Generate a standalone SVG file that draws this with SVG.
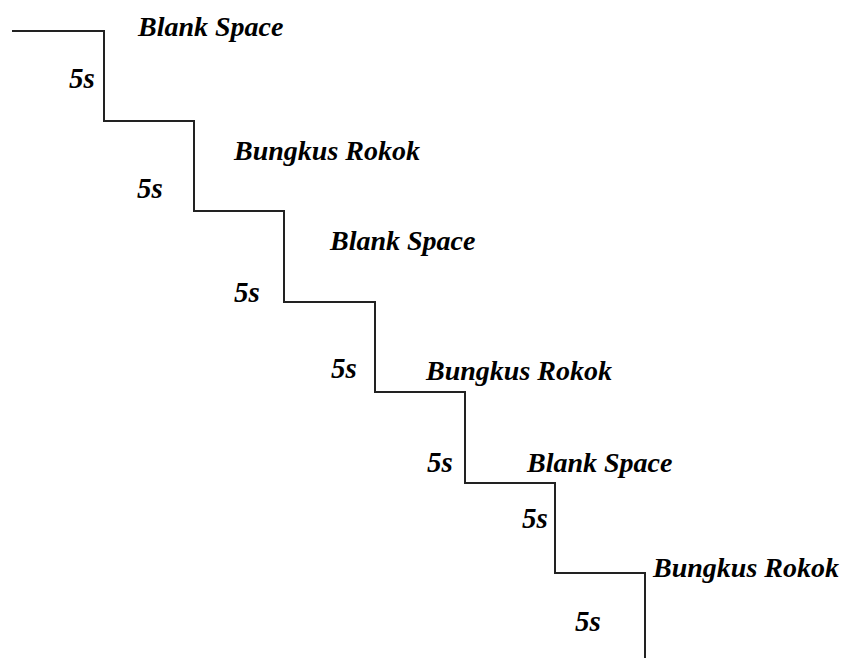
<svg xmlns="http://www.w3.org/2000/svg" width="843" height="658" viewBox="0 0 843 658">
  <style>
    .step { fill: none; stroke: #222; stroke-width: 2; }
    .lbl { font-family: "Liberation Serif", "Times New Roman", serif; font-weight: bold; font-style: italic; font-size: 28px; fill: #000; }
    .dur { font-family: "Liberation Serif", "Times New Roman", serif; font-weight: bold; font-style: italic; font-size: 29px; fill: #000; }
  </style>
  <rect width="843" height="658" fill="#fff"/>

  <!-- staircase timeline -->
  <g id="connectors">
    <path class="step" d="M12 31 H104 V121 H194 V211 H284 V302 H375 V392 H465 V483 H555 V573 H645 V658"/>
  </g>

  <!-- phases -->
  <g id="phase1">
    <text class="lbl" x="138" y="36">Blank Space</text>
    <text class="dur" x="69" y="88">5s</text>
  </g>
  <g id="phase2">
    <text class="lbl" x="234" y="160">Bungkus Rokok</text>
    <text class="dur" x="137" y="198">5s</text>
  </g>
  <g id="phase3">
    <text class="lbl" x="330" y="250">Blank Space</text>
    <text class="dur" x="234" y="302">5s</text>
  </g>
  <g id="phase4">
    <text class="lbl" x="426" y="380">Bungkus Rokok</text>
    <text class="dur" x="331" y="378">5s</text>
  </g>
  <g id="phase5">
    <text class="lbl" x="527" y="472">Blank Space</text>
    <text class="dur" x="427" y="472">5s</text>
  </g>
  <g id="phase6">
    <text class="lbl" x="653" y="577">Bungkus Rokok</text>
    <text class="dur" x="522" y="528">5s</text>
  </g>
  <g id="phase7">
    <text class="dur" x="575" y="631">5s</text>
  </g>
</svg>
